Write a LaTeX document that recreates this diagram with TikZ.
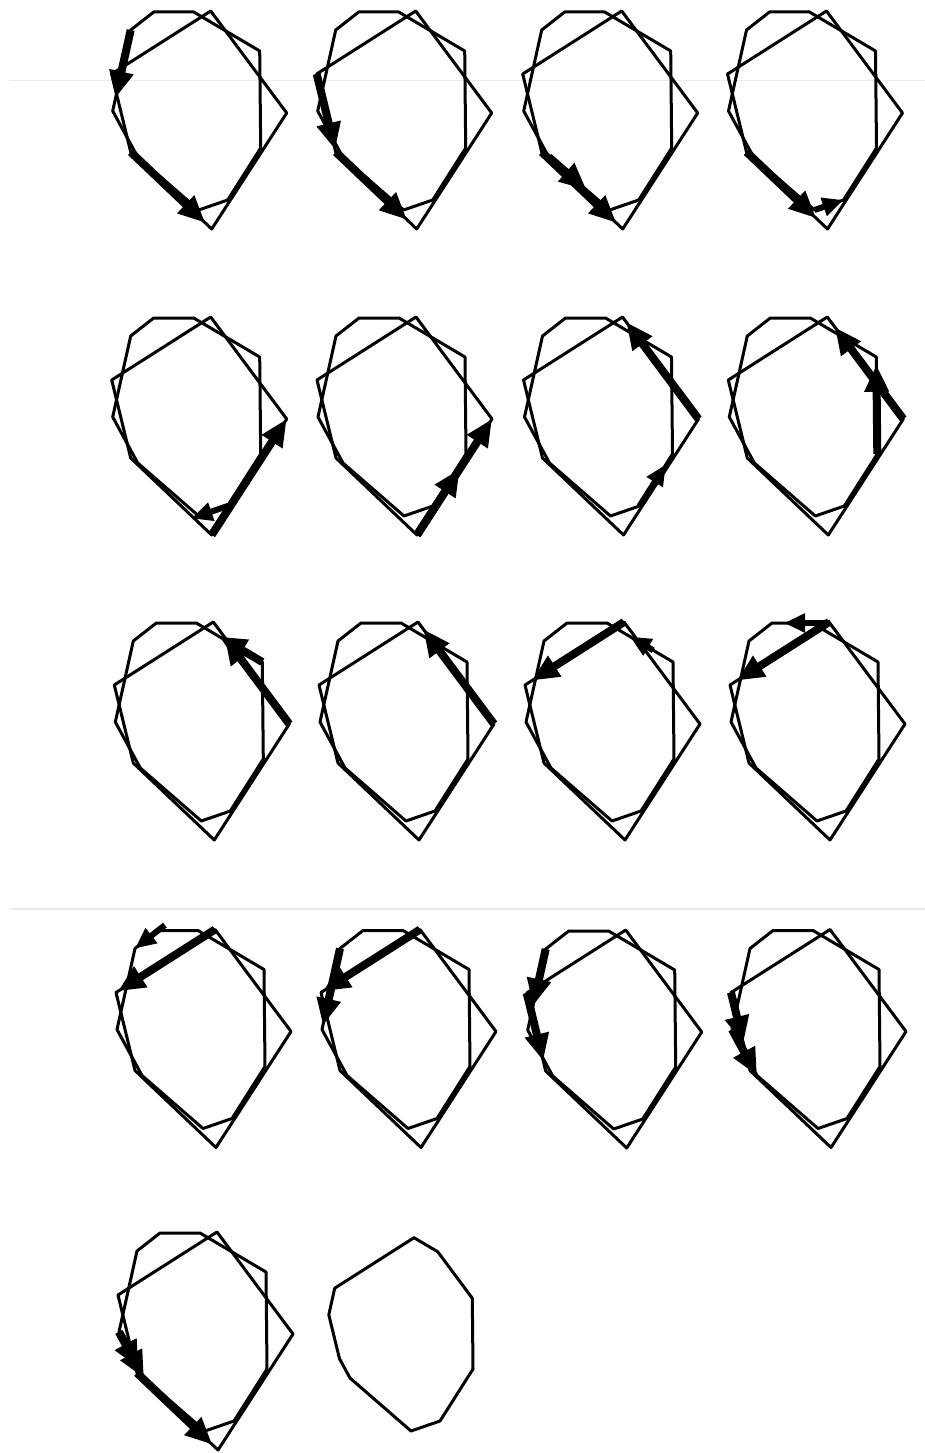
\documentclass[tikz,border=0pt]{standalone}
\usetikzlibrary{arrows.meta,calc}
\newcommand{\mkpanel}[2]{%
  \begin{scope}[shift={(#1,#2)}]
    \coordinate (P1) at (-58,-217);
    \coordinate (P2) at (-18,-217);
    \coordinate (P3) at (48,-178);
    \coordinate (P4) at (49,-81);
    \coordinate (P5) at (16,-29);
    \coordinate (P6) at (-13,-19);
    \coordinate (P7) at (-74,-72);
    \coordinate (P8) at (-99,-118);
    \coordinate (P9) at (-81,-199);
    \coordinate (T) at (-1,-218);
    \coordinate (L) at (-100,-155);
    \coordinate (Q5) at (-81,-77);
    \coordinate (B) at (0,0);
    \coordinate (R) at (75,-116);
  \end{scope}
  \draw[poly] (P1)--(P2)--(P3)--(P4)--(P5)--(P6)--(P7)--(P8)--(P9)--cycle;
  \draw[poly] (T)--(L)--(Q5)--(B)--(R)--cycle;
}
\begin{document}
\begin{tikzpicture}[x=1pt,y=-1pt,
  poly/.style={line width=3pt, line join=round},
  arr/.style={line width=8pt, -{Triangle[length=27pt,width=23pt]}},
  sarr/.style={line width=6pt, -{Triangle[length=21pt,width=18pt]}},
  scan/.style={draw=black!8, line width=1.2pt}]
\fill[white] (0,0) rectangle (925,1453);
\useasboundingbox (0,0) rectangle (925,1453);
\coordinate (s1a) at (9,80.7); \coordinate (s1b) at (925,80.7);
\coordinate (s2a) at (9,909); \coordinate (s2b) at (925,909);
\draw[scan] (s1a) -- (s1b);
\draw[scan] (s2a) -- (s2b);

% Row 1
\mkpanel{211.7}{229}
\draw[arr] (P9) -- ($(P9)!0.84!(P8)$);
\draw[arr] (Q5) -- ($(Q5)!0.92!(B)$);

\mkpanel{416.7}{229}
\draw[arr] (L) -- ($(L)!0.97!(Q5)$);
\draw[arr] (Q5) -- ($(Q5)!0.88!(B)$);

\mkpanel{622.7}{229}
\draw[arr] (P7) -- ($(P7)!0.62!(P6)$);
\draw[arr] (Q5) -- ($(Q5)!0.92!(B)$);

\mkpanel{827.5}{229}
\draw[arr] (Q5) -- ($(Q5)!0.86!(B)$);
\draw[sarr] (P6) -- (P5);

% Row 2
\mkpanel{211.7}{535}
\draw[arr] (B) -- (R);
\draw[sarr] (P5) -- ($(P5)!1.25!(P6)$);

\mkpanel{417}{535}
\draw[arr] (B) -- ($(B)!0.57!(R)$);
\draw[arr] (B) -- (R);

\mkpanel{623.5}{535}
\draw[arr] (R) -- ($(R)!0.95!(T)$);
\draw[sarr] (P5) -- ($(P5)!0.8!(P4)$);

\mkpanel{828.3}{535}
\draw[arr] (R) -- ($(R)!0.9!(T)$);
\draw[arr] (P4) -- ($(P4)!0.92!(P3)$);

% Row 3
\mkpanel{214.3}{840}
\draw[arr] (R) -- ($(R)!0.85!(T)$);
\draw[arr] (P3) -- ($(P3)!0.65!(P2)$);

\mkpanel{419}{840}
\draw[arr] (R) -- ($(R)!0.93!(T)$);

\mkpanel{625}{840}
\draw[arr] (T) -- ($(T)!0.93!(L)$);
\draw[sarr] ($(P3)!0.3!(P2)$) -- ($(P3)!0.65!(P2)$);

\mkpanel{830}{840}
\draw[arr] (T) -- ($(T)!0.93!(L)$);
\draw[sarr] ($(P2)!-0.45!(P1)$) -- ($(P2)!0.7!(P1)$);

% Row 4
\mkpanel{216}{1147.5}
\draw[arr] (T) -- ($(T)!0.98!(L)$);
\draw[sarr] ($(P1)!-0.3!(P9)$) -- (P9);

\mkpanel{421}{1147.5}
\draw[arr] (T) -- ($(T)!0.98!(L)$);
\draw[arr] (P9) -- ($(P9)!0.95!(P8)$);

\mkpanel{626.7}{1148}
\draw[arr] (P9) -- ($(P9)!0.7!(P8)$);
\draw[arr] (L) -- ($(L)!0.87!(Q5)$);

\mkpanel{831}{1147.5}
\draw[arr] (L) -- ($(L)!0.65!(Q5)$);
\draw[arr] (P8) -- (P7);

% Row 5
\mkpanel{218}{1450}
\draw[arr] (P8) -- ($(P8)!0.78!(P7)$);
\draw[arr] (P8) -- (P7);
\draw[arr] (Q5) -- ($(Q5)!0.93!(B)$);

% Final: intersection
\begin{scope}[shift={(424,1450)}]
  \coordinate (I1) at (-10.0,-212.3);
  \coordinate (I2) at (-89.3,-161.8);
  \coordinate (I3) at (-95.2,-135.2);
  \coordinate (I4) at (-84.5,-91.3);
  \coordinate (I5) at (-74,-72);
  \coordinate (I6) at (-13,-19);
  \coordinate (I7) at (16,-29);
  \coordinate (I8) at (49,-81);
  \coordinate (I9) at (48.3,-151.8);
  \coordinate (I10) at (13.7,-198.3);
\end{scope}
\draw[poly] (I1)--(I2)--(I3)--(I4)--(I5)--(I6)--(I7)--(I8)--(I9)--(I10)--cycle;
\end{tikzpicture}
\end{document}
